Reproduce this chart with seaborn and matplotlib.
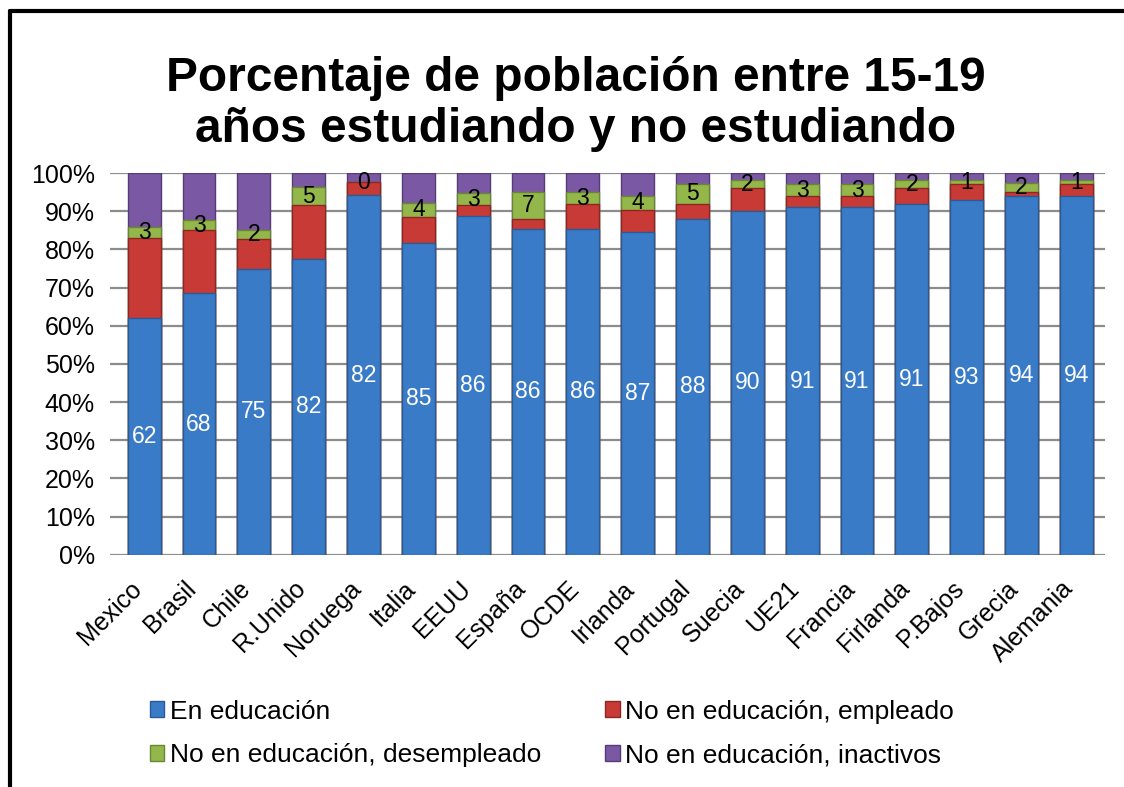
import matplotlib
matplotlib.use("Agg")
import matplotlib.pyplot as plt
from matplotlib.lines import Line2D
from matplotlib.patches import Patch
from matplotlib.transforms import ScaledTranslation
import numpy as np
import pandas as pd
import seaborn as sns

# Datos
paises = ["Mexico", "Brasil", "Chile", "R.Unido", "Noruega", "Italia", "EEUU",
          "España", "OCDE", "Irlanda", "Portugal", "Suecia", "UE21", "Francia",
          "Firlanda", "P.Bajos", "Grecia", "Alemania"]

en_educacion = [62, 68.5, 75, 77.6, 94.2, 81.7, 88.7, 85.4, 85.4, 84.5, 88, 90.2,
                91, 91, 91.9, 92.9, 94.1, 93.9]
empleado = [21, 16.5, 7.8, 14, 3.4, 6.8, 2.9, 2.6, 6.5, 5.8, 3.9, 5.9,
            2.9, 2.9, 4.2, 4.3, 0.9, 3.3]
desempleado = [3, 2.7, 2.2, 4.7, 0, 3.7, 3.2, 7, 3.1, 3.8, 5.3, 2,
               3.3, 3.3, 2, 0.9, 2.3, 0.9]
inactivos = [14, 12.3, 15, 3.7, 2.4, 7.8, 5.2, 5, 5, 5.9, 2.8, 1.9,
             2.8, 2.8, 1.9, 1.9, 2.7, 1.9]

# etiquetas tal como aparecen en el grafico
etiq_educacion = [62, 68, 75, 82, 82, 85, 86, 86, 86, 87, 88, 90, 91, 91, 91, 93, 94, 94]
etiq_desempleado = [3, 3, 2, 5, 0, 4, 3, 7, 3, 4, 5, 2, 3, 3, 2, 1, 2, 1]

series = ["En educación", "No en educación, empleado",
          "No en educación, desempleado", "No en educación, inactivos"]
colores = ["#3a7bc8", "#c83a36", "#93b74a", "#7b58a3"]
bordes = ["#2a5a94", "#8e2724", "#6a8634", "#563c77"]

df = pd.DataFrame({"pais": paises, series[0]: en_educacion, series[1]: empleado,
                   series[2]: desempleado, series[3]: inactivos})
total = df[series].sum(axis=1)
pct = df[series].div(total, axis=0) * 100
acum = pct.cumsum(axis=1)

sns.set_style("white")
plt.rcParams["font.family"] = ["Liberation Sans", "DejaVu Sans"]
plt.rcParams["text.color"] = "black"
plt.rcParams["xtick.color"] = "black"
plt.rcParams["ytick.color"] = "black"

fig = plt.figure(figsize=(11.24, 7.87), dpi=100)
ax = fig.add_axes([0.098, 0.295, 0.885, 0.485])

# barras apiladas: de la mas alta a la mas baja
for i in range(3, -1, -1):
    sns.barplot(x=df["pais"], y=acum[series[i]], color=colores[i], width=0.6,
                edgecolor=bordes[i], linewidth=1.0, saturation=1, ax=ax, zorder=3)

xs = np.arange(len(paises))
centro_azul = acum[series[0]] / 2
centro_verde = acum[series[2]] - pct[series[2]] / 2
for x, y, t in zip(xs, centro_azul, etiq_educacion):
    ax.text(x, y, str(t), ha="center", va="center", color="white", fontsize=16.5, zorder=5)
for x, y, t in zip(xs, centro_verde, etiq_desempleado):
    ax.text(x, y, str(t), ha="center", va="center", color="black", fontsize=16.5, zorder=5)

ax.set_ylim(0, 100)
ax.set_xlim(-0.62, len(paises) - 0.48)
ax.set_yticks(range(0, 101, 10))
ax.set_yticklabels([f"{v}%" for v in range(0, 101, 10)], fontsize=18)
ax.yaxis.grid(True, color="#8c8c8c", linewidth=1.6, zorder=0)
ax.set_axisbelow(True)
ax.tick_params(axis="y", length=0, pad=11)
ax.tick_params(axis="x", length=0, pad=14)
ax.set_xticks(xs)
ax.set_xticklabels(paises, rotation=45, ha="right", rotation_mode="anchor", fontsize=18)
desplazar = ScaledTranslation(-15 / 100, -2 / 100, fig.dpi_scale_trans)
for lab in ax.get_xticklabels():
    lab.set_transform(lab.get_transform() + desplazar)
ax.set_xlabel("")
ax.set_ylabel("")
for s in ax.spines.values():
    s.set_visible(False)

fig.text(0.512, 0.868, "Porcentaje de población entre 15-19\naños estudiando y no estudiando",
         ha="center", va="center", fontsize=34.5, fontweight="bold", linespacing=1.17)

orden = [0, 2, 1, 3]
handles = [Patch(facecolor=colores[i], edgecolor=bordes[i]) for i in orden]
fig.legend(handles, [series[i] for i in orden], ncol=2, loc="center",
           bbox_to_anchor=(0.491, 0.068), frameon=False, fontsize=19,
           handlelength=0.55, handleheight=0.55, handletextpad=0.2,
           columnspacing=2.45, labelspacing=0.75)

# borde del grafico (izquierda y arriba)
fig.add_artist(Line2D([0.0085, 0.0085], [0, 0.9865], color="black", linewidth=3))
fig.add_artist(Line2D([0.0085, 1.0], [0.9865, 0.9865], color="black", linewidth=3))

fig.savefig("out.png", dpi=100, facecolor="white")
